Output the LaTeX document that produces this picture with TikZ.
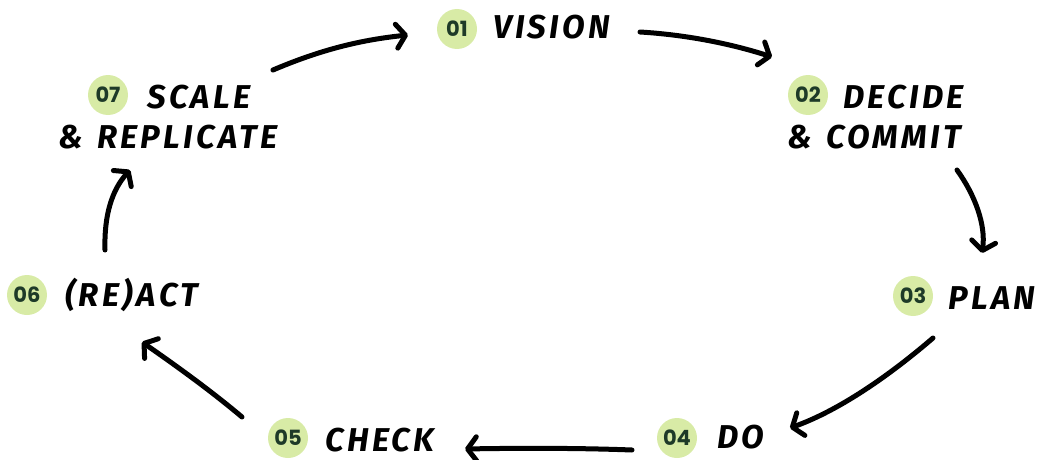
\documentclass[tikz,border=0pt]{standalone}
\usepackage{fontspec}
\usetikzlibrary{arrows.meta}
\newfontfamily\handfont[LetterSpace=10]{Fira Sans}
\newfontfamily\badgefont{Poppins}
\definecolor{badgefill}{HTML}{D8EBA6}
\definecolor{badgetext}{HTML}{1E3A28}
\tikzset{
  badge/.style={circle,fill=badgefill,minimum size=40pt,inner sep=0pt,
    font=\badgefont\bfseries\fontsize{21}{21}\selectfont,text=badgetext},
  lbl/.style={anchor=base west,inner sep=0pt,
    font=\handfont\bfseries\itshape\fontsize{33}{33}\selectfont},
  flow/.style={line width=5pt,line cap=round,line join=round,
    -{Straight Barb[length=9pt,width=24pt,line cap=round,line join=round]}}
}
\begin{document}
\begin{tikzpicture}[x=1pt,y=-1pt]
\useasboundingbox (0,0) rectangle (1044,460);
% badges
\node[badge] (b1) at (457,29) {01};
\node[badge] (b2) at (808,95) {02};
\node[badge] (b3) at (913,296) {03};
\node[badge] (b4) at (677,438) {04};
\node[badge] (b5) at (288,438) {05};
\node[badge] (b6) at (27,295) {06};
\node[badge] (b7) at (108,95) {07};
% labels
\node[lbl] (l1) at (493,39) {VISION};
\node[lbl] (l2a) at (843,108) {DECIDE};
\node[lbl] (l2b) at (787,148) {\&\hspace{14pt}COMMIT};
\node[lbl] (l3) at (948,309) {PLAN};
\node[lbl] (l4) at (717,448) {DO};
\node[lbl] (l5) at (325,451) {CHECK};
\node[lbl] (l6) at (65,306) {(RE)\hspace{4pt}ACT};
\node[lbl] (l7a) at (147,108) {SCALE};
\node[lbl] (l7b) at (58,148) {\&\hspace{14pt}REPLICATE};
% arrow ends
\coordinate (s71) at (273,70);  \coordinate (e71) at (408,35);
\coordinate (s12) at (640,32);  \coordinate (e12) at (772,57);
\coordinate (s23) at (957,170); \coordinate (e23) at (982,253);
\coordinate (s34) at (933,338); \coordinate (e34) at (790,428);
\coordinate (s45) at (632,450); \coordinate (e45) at (465,449);
\coordinate (s56) at (242,417); \coordinate (e56) at (142,342);
\coordinate (s67) at (105,250); \coordinate (e67) at (130,170);
\draw[flow] (s71) .. controls (320,50) and (360,40) .. (e71);
\draw[flow] (s12) .. controls (690,35) and (735,45) .. (e12);
\draw[flow] (s23) .. controls (975,195) and (986,225) .. (e23);
\draw[flow] (s34) .. controls (890,375) and (840,410) .. (e34);
\draw[flow] (s45) .. controls (580,448) and (520,448) .. (e45);
\draw[flow] (s56) .. controls (210,390) and (175,365) .. (e56);
\draw[flow] (s67) .. controls (104,215) and (112,190) .. (e67);
\end{tikzpicture}
\end{document}
